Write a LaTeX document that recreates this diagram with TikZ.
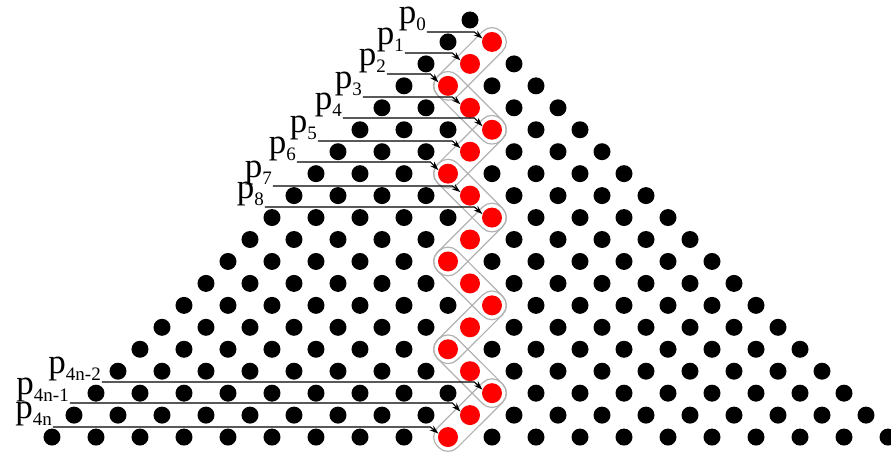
\documentclass[tikz,border=0pt]{standalone}
\usepackage{fontspec}
\setmainfont{Liberation Serif}
\usetikzlibrary{arrows.meta,backgrounds}

\newcommand{\plab}[1]{p\raisebox{-7.5pt}{\fontsize{19}{19}\selectfont #1}}

\begin{document}
\begin{tikzpicture}[
  x=1pt, y=1pt,
  bdot/.style={circle, fill=black, minimum size=17pt, inner sep=0pt},
  rdot/.style={circle, fill=red, minimum size=20pt, inner sep=0pt},
  capsule/.style={draw=gray!60, line width=1.2pt, rounded corners=13pt, minimum width=90pt, minimum height=28pt, inner sep=0pt},
  plabel/.style={anchor=south east, inner sep=1pt, text height=17pt, font=\fontsize{35}{35}\selectfont},
  parrow/.style={-{Stealth[length=9pt,width=6pt]}, line width=1.1pt}
]
\useasboundingbox (-470,20) rectangle (421,-432);

% triangle of dots, one red dot per row on the zig-zag
\foreach \r in {0,...,19} {
  \pgfmathtruncatemacro{\m}{mod(\r,4)}
  \pgfmathtruncatemacro{\off}{\m==1 ? 1 : (\m==3 ? -1 : 0)}
  \foreach \k in {0,...,\r} {
    \pgfmathtruncatemacro{\c}{2*\k-\r}
    \pgfmathtruncatemacro{\isred}{(\r>0) && (\c==\off)}
    \ifnum\isred=1
      \node[rdot] (r\r) at (22*\c, -21.95*\r) {};
    \else
      \node[bdot] (d\r-\k) at (22*\c, -21.95*\r) {};
    \fi
  }
}

% capsules round the red diagonals
\begin{scope}[on background layer]
\foreach \a in {1,3,...,17} {
  \pgfmathtruncatemacro{\b}{\a+2}
  \path (r\a) -- (r\b) node[midway, sloped, capsule] {};
}
\end{scope}

% labels and arrows
\foreach \n/\s/\x/\y/\t in {0/0/-43/-12/1, 1/1/-65/-33/2, 2/2/-83/-54/3, 3/3/-107/-77/4,
    4/4/-127/-98/5, 5/5/-152/-121/6, 6/6/-173/-142/7, 7/7/-197/-166/8, 8/8/-205/-187/9,
    a/4n-2/-368/-362/17, b/4n-1/-400/-383/18, c/4n/-417/-407/19} {
  \node[plabel] (l\n) at (\x,\y) {\plab{\s}};
  \draw[parrow] (l\n.south east) -- ([xshift=-8pt]r\t.160 |- l\n.south east) -- (r\t.160);
}

\end{tikzpicture}
\end{document}
